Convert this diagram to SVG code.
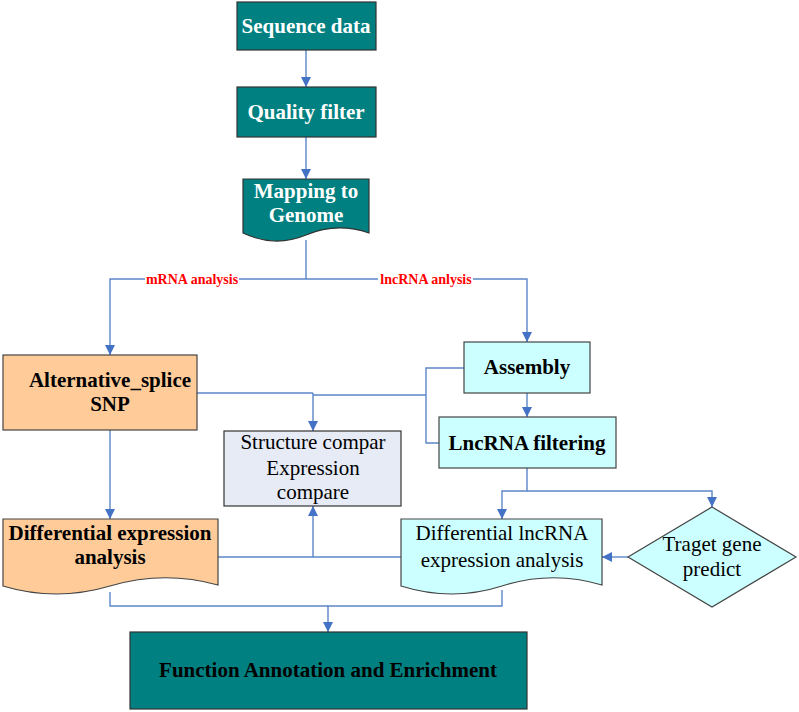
<svg xmlns="http://www.w3.org/2000/svg" width="799" height="712" viewBox="0 0 799 712">
<style>
.teal{fill:#008080;stroke:#333;stroke-width:1.2}
.org{fill:#FFCC99;stroke:#444;stroke-width:1.2}
.cyan{fill:#CCFFFF;stroke:#444;stroke-width:1.2}
.gray{fill:#E6EBF6;stroke:#333;stroke-width:1.2}
.t{font-family:"Liberation Serif","Times New Roman",serif;text-anchor:middle}
.w{fill:#fff;font-weight:bold;font-size:21px}
.b{fill:#000;font-weight:bold;font-size:21px}
.n{fill:#000;font-size:21px}
.red{fill:#FF0000;font-weight:bold;font-size:14px}
.c{fill:none;stroke:#5B86C8;stroke-width:1.4}
</style>
<defs>
<marker id="ah" viewBox="0 0 10 10" refX="10" refY="5" markerWidth="10" markerHeight="10" markerUnits="userSpaceOnUse" orient="auto">
<path d="M0,0 L10,5 L0,10 z" fill="#4472C4"/>
</marker>
</defs>
<rect width="799" height="712" fill="#fff"/>
<g id="connectors">
<path class="c" d="M306,50 V87" marker-end="url(#ah)"/>
<path class="c" d="M306,137 V179" marker-end="url(#ah)"/>
<path class="c" d="M306,240 V279"/>
<path class="c" d="M306,279 H239 M145,279 H110 V355" marker-end="url(#ah)"/>
<path class="c" d="M306,279 H378 M473,279 H527 V342" marker-end="url(#ah)"/>
<path class="c" d="M527,393 V417" marker-end="url(#ah)"/>
<path class="c" d="M464,368 H426 V443 H439"/>
<path class="c" d="M197,393 H313"/>
<path class="c" d="M313,395 H426"/>
<path class="c" d="M313,393 V431" marker-end="url(#ah)"/>
<path class="c" d="M110,430 V519" marker-end="url(#ah)"/>
<path class="c" d="M527,468 V491 H502 V519" marker-end="url(#ah)"/>
<path class="c" d="M527,491 H712 V507" marker-end="url(#ah)"/>
<path class="c" d="M628,557 H602" marker-end="url(#ah)"/>
<path class="c" d="M218,557 H401"/>
<path class="c" d="M313,557 V506" marker-end="url(#ah)"/>
<path class="c" d="M110,592 V606 H328"/>
<path class="c" d="M502,590 V606 H328 V632" marker-end="url(#ah)"/>
<text class="t red" x="192" y="284">mRNA analysis</text>
<text class="t red" x="426" y="284">lncRNA anlysis</text>
</g>
<g id="sequence-data">
<rect class="teal" x="237" y="2" width="139" height="48"/>
<text class="t w" x="306" y="33">Sequence data</text>
</g>
<g id="quality-filter">
<rect class="teal" x="237" y="87" width="139" height="50"/>
<text class="t w" x="306" y="119">Quality filter</text>
</g>
<g id="mapping">
<path class="teal" d="M243,179 H369 V233 Q337,222 306,235 T243,233 Z"/>
<text class="t w" x="306" y="198">Mapping to</text>
<text class="t w" x="306" y="222">Genome</text>
</g>
<g id="alt-splice">
<rect class="org" x="3" y="355" width="194" height="75"/>
<text class="t b" x="110" y="387">Alternative_splice</text>
<text class="t b" x="110" y="411">SNP</text>
</g>
<g id="assembly">
<rect class="cyan" x="464" y="342" width="126" height="51"/>
<text class="t b" x="527" y="374">Assembly</text>
</g>
<g id="lncrna-filtering">
<rect class="cyan" x="439" y="417" width="177" height="51"/>
<text class="t b" x="527" y="450">LncRNA filtering</text>
</g>
<g id="structure-compare">
<rect class="gray" x="224" y="431" width="177" height="75"/>
<text class="t n" x="313" y="449">Structure compar</text>
<text class="t n" x="313" y="475">Expression</text>
<text class="t n" x="313" y="499">compare</text>
</g>
<g id="diff-expression">
<path class="org" d="M3,519 H218 V585 Q164,570 110,586 T3,586 Z"/>
<text class="t b" x="110" y="540">Differential expression</text>
<text class="t b" x="110" y="564">analysis</text>
</g>
<g id="diff-lncrna">
<path class="cyan" d="M401,519 H602 V585 Q552,570 502,586 T401,586 Z"/>
<text class="t n" x="502" y="540">Differential lncRNA</text>
<text class="t n" x="502" y="567">expression analysis</text>
</g>
<g id="target-gene">
<path class="cyan" d="M712,507 L796,557 L712,607 L628,557 Z"/>
<text class="t n" x="712" y="551">Traget gene</text>
<text class="t n" x="712" y="576">predict</text>
</g>
<g id="function-annotation">
<rect class="teal" x="130" y="632" width="397" height="77"/>
<text class="t" x="328" y="677" style="font-weight:bold;font-size:21px;fill:#000">Function Annotation and Enrichment</text>
</g>
</svg>
